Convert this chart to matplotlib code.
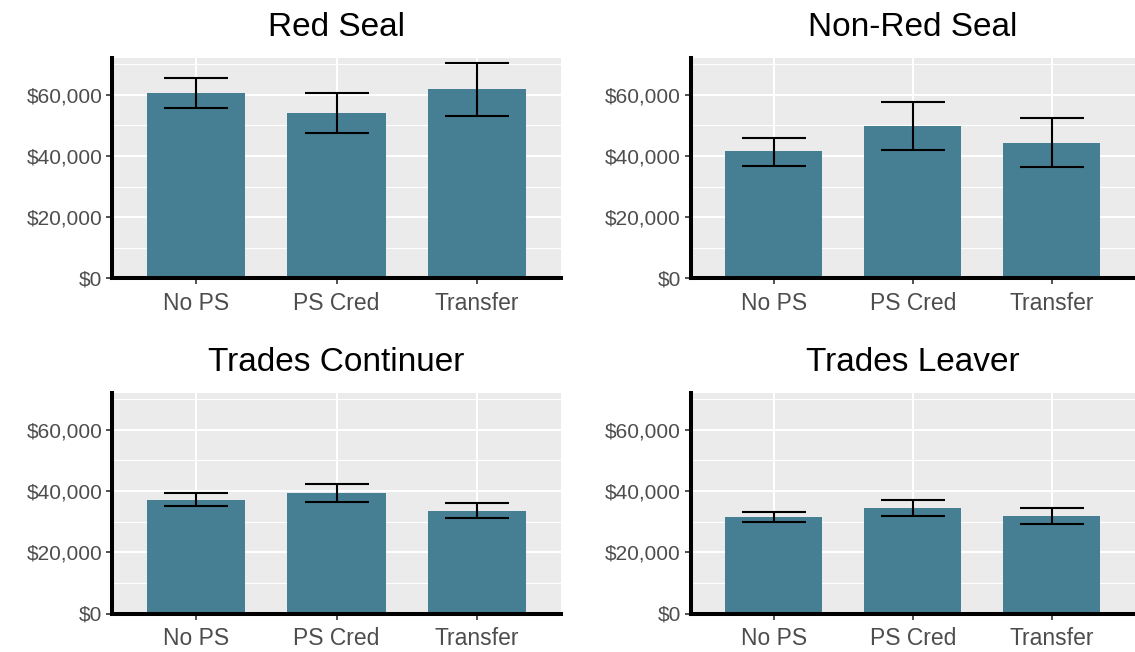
import numpy as np
import matplotlib
matplotlib.use("Agg")
import matplotlib.pyplot as plt
from matplotlib.ticker import FuncFormatter, MultipleLocator

plt.rcParams['font.family'] = ['Liberation Sans', 'DejaVu Sans']

# data
groups = ["Red Seal", "Non-Red Seal", "Trades Continuer", "Trades Leaver"]
categories = ["No PS", "PS Cred", "Transfer"]
means = [
    [60500, 53900, 61800],
    [41500, 49900, 44100],
    [37100, 39400, 33600],
    [31400, 34450, 31800],
]
lower = [
    [55600, 47400, 53000],
    [36750, 42100, 36400],
    [35000, 36400, 31050],
    [29850, 31900, 29300],
]
upper = [
    [65400, 60650, 70500],
    [45950, 57600, 52550],
    [39500, 42250, 36000],
    [33250, 37200, 34550],
]

bar_color = "#467f93"
W, H = 1135, 652
fig = plt.figure(figsize=(W / 100, H / 100), dpi=100)

# panel boxes in pixels: left, right, top, bottom
boxes = [
    (112, 561, 58, 278.5),
    (690.5, 1135, 58, 278.5),
    (112, 561, 393, 613.5),
    (690.5, 1135, 393, 613.5),
]

x = np.arange(1, len(categories) + 1)
for i, (l, r, t, b) in enumerate(boxes):
    ax = fig.add_axes([l / W, 1 - b / H, (r - l) / W, (b - t) / H])
    ax.set_facecolor("#ebebeb")
    ax.bar(x, means[i], width=0.7, color=bar_color, zorder=2)
    err = [np.array(means[i]) - np.array(lower[i]), np.array(upper[i]) - np.array(means[i])]
    ax.errorbar(x, means[i], yerr=err, fmt="none", ecolor="black",
                elinewidth=1.5, capsize=23, capthick=1.5, zorder=3)
    ax.set_xlim(0.4, 3.6)
    ax.set_ylim(0, 72000)
    ax.set_xticks(x)
    ax.set_xticklabels(categories)
    ax.yaxis.set_major_locator(MultipleLocator(20000))
    ax.yaxis.set_minor_locator(MultipleLocator(10000))
    ax.yaxis.set_major_formatter(FuncFormatter(lambda v, p: "${:,.0f}".format(v)))
    ax.grid(which="major", color="white", linewidth=1.5, zorder=0)
    ax.grid(which="minor", axis="y", color="white", linewidth=0.8, zorder=0)
    ax.set_axisbelow(True)
    for s in ["top", "right"]:
        ax.spines[s].set_visible(False)
    for s in ["left", "bottom"]:
        ax.spines[s].set_linewidth(2.9)
        ax.spines[s].set_color("black")
    ax.tick_params(which="major", length=4, width=1.2, color="#333333",
                   labelcolor="#4d4d4d")
    ax.tick_params(axis="y", labelsize=15, pad=3)
    ax.tick_params(axis="x", labelsize=16.5, pad=6)
    ax.tick_params(which="minor", length=0)
    ax.set_title(groups[i], fontsize=24, pad=16)

fig.savefig("out.png", dpi=100)
